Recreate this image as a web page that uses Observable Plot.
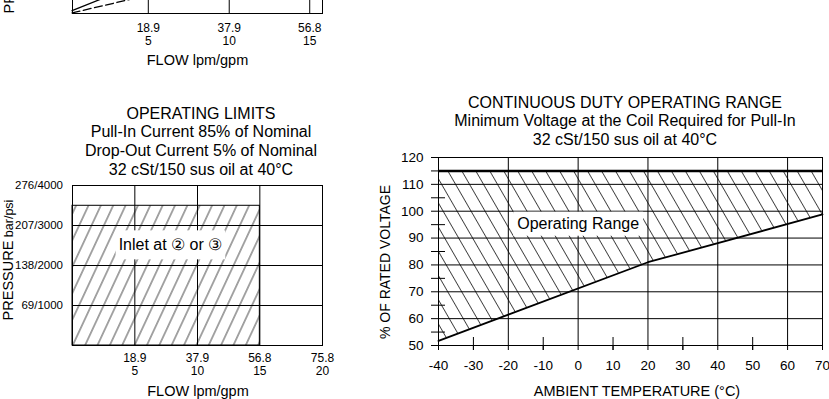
<!DOCTYPE html>
<html>
<head>
<meta charset="utf-8">
<script src="https://cdn.jsdelivr.net/npm/d3@7"></script>
<script src="https://cdn.jsdelivr.net/npm/@observablehq/plot@0.6"></script>
<style>
  html, body { margin: 0; padding: 0; background: #fff; }
  #root { position: relative; width: 829px; height: 399px; overflow: hidden; background: #fff;
          font-family: Arial, "Liberation Sans", Helvetica, sans-serif; color: #000; }
  #root svg { position: absolute; }
  .title { position: absolute; font-size: 16px; text-align: center; white-space: nowrap; transform: translateX(-50%); }
  .axlabel { position: absolute; font-size: 14.5px; white-space: nowrap; line-height: 1; }
</style>
</head>
<body>
<div id="root"></div>
<script>
// ---------- data ----------
const flowLpm = [18.9, 37.9, 56.8, 75.8];
const flowGpm = [5, 10, 15, 20];
const pressureBar = [69, 138, 207, 276];
const pressurePsi = [1000, 2000, 3000, 4000];

// operating limits region (flow lpm, pressure bar)
const limitRegion = [{flow0: 0, flow1: 56.8, p0: 0, p1: 241}];
const inletLabel = [{flow: 29.7, pressure: 173, text: "Inlet at \u2461 or \u2462"}];

// cut-off upper chart curves
const topSolidFlow = [1.0, 8.5];
const topSolidPressure = [4.8, 27];
const topDashedFlow = [1.0, 15];
const topDashedPressure = [1.0, 25];

// continuous duty operating range
const temps = [-40, 20, 70];
const minVoltage = [51.7, 81, 98.8];
const maxVoltage = 115;
const tempTicks = [-40, -30, -20, -10, 0, 10, 20, 30, 40, 50, 60, 70];
const tempGrid = [-20, 0, 20, 40, 60];
const tempMinor = [-30, -10, 10, 30, 50];
const voltTicks = [50, 60, 70, 80, 90, 100, 110, 120];
const voltGrid = [60, 70, 80, 90, 100, 110];
const voltMinor = [55, 65, 75, 85, 95, 105, 115];
const rangeLabel = [{temp: 0, volt: 95.2, text: "Operating Range"}];

const leftTitle = ["OPERATING LIMITS", "Pull-In Current 85% of Nominal", "Drop-Out Current 5% of Nominal", "32 cSt/150 sus oil at 40\u00B0C"];
const rightTitle = ["CONTINUOUS DUTY OPERATING RANGE", "Minimum Voltage at the Coil Required for Pull-In", "32 cSt/150 sus oil at 40\u00B0C"];

// ---------- helpers ----------
const FONT = 'Arial, "Liberation Sans", Helvetica, sans-serif';
const root = document.getElementById("root");
const baseStyle = {fontFamily: FONT, fontSize: "12px", color: "#000", background: "transparent", overflow: "visible"};

function place(el, left, top) {
  el.style.left = left + "px";
  el.style.top = top + "px";
  root.appendChild(el);
  return el;
}
function hatch(svg, id, angle, spacing, width) {
  const defs = d3.select(svg).insert("defs", ":first-child");
  const p = defs.append("pattern").attr("id", id)
    .attr("patternUnits", "userSpaceOnUse")
    .attr("width", spacing).attr("height", spacing)
    .attr("patternTransform", `rotate(${angle})`);
  p.append("line").attr("x1", spacing / 2).attr("x2", spacing / 2)
    .attr("y1", -1).attr("y2", spacing + 1)
    .attr("stroke", "#111").attr("stroke-width", width);
}
function boxLabel(svg, label, padX, padY) {
  d3.select(svg).selectAll("text").filter(function() { return this.textContent === label; })
    .each(function() {
      const b = this.getBBox();
      const r = document.createElementNS("http://www.w3.org/2000/svg", "rect");
      r.setAttribute("x", b.x - padX); r.setAttribute("y", b.y - padY);
      r.setAttribute("width", b.width + 2 * padX); r.setAttribute("height", b.height + 2 * padY);
      r.setAttribute("fill", "#fff");
      const t = this.getAttribute("transform"); if (t) r.setAttribute("transform", t);
      this.parentNode.insertBefore(r, this);
    });
}
function titleBlock(lines, cx, firstCenter, lineH) {
  const div = document.createElement("div");
  div.className = "title";
  div.style.lineHeight = lineH + "px";
  lines.forEach(l => { const d = document.createElement("div"); d.textContent = l; div.appendChild(d); });
  place(div, cx, firstCenter - lineH / 2);
}
function axisLabel(text, cx, cy) {
  const div = document.createElement("div");
  div.className = "axlabel";
  div.textContent = text;
  div.style.transform = "translate(-50%, -50%)";
  place(div, cx, cy);
}
function rotLabel(parts, cx, cy) {
  const div = document.createElement("div");
  div.className = "axlabel";
  div.style.transform = "translate(-50%, -50%) rotate(-90deg)";
  parts.forEach(([t, s]) => { const sp = document.createElement("span"); sp.textContent = t; sp.style.fontSize = s + "px"; div.appendChild(sp); });
  place(div, cx, cy);
}
const flowFmt = d => `${d}\n${flowGpm[flowLpm.indexOf(d)]}`;

// ---------- top (cut-off) chart ----------
const topSolid = topSolidFlow.map((f, i) => ({flow: f, p: topSolidPressure[i]}));
const topDashed = topDashedFlow.map((f, i) => ({flow: f, p: topDashedPressure[i]}));
const topPlot = Plot.plot({
  width: 340, height: 245,
  marginLeft: 72, marginRight: 18, marginTop: 23, marginBottom: 62,
  x: {domain: [1.1, 59.8], label: null},
  y: {domain: [0, 276], label: null, axis: null},
  style: baseStyle,
  marks: [
    Plot.ruleX(flowLpm.slice(0, 3), {stroke: "#000"}),
    Plot.frame({stroke: "#000"}),
    Plot.line(topSolid, {x: "flow", y: "p", stroke: "#000", strokeWidth: 1.3}),
    Plot.line(topDashed, {x: "flow", y: "p", stroke: "#000", strokeWidth: 1.3, strokeDasharray: "8,3.5"}),
    Plot.axisX({ticks: flowLpm.slice(0, 3), tickSize: 0, tickPadding: 10, tickFormat: flowFmt, fontSize: 12, lineHeight: 1.05, label: null})
  ]
});
place(topPlot, 0, -170);

// ---------- operating limits chart ----------
const leftPlot = Plot.plot({
  width: 340, height: 229,
  marginLeft: 72, marginRight: 18, marginTop: 15, marginBottom: 54,
  x: {domain: [0, 75.8], label: null},
  y: {domain: [0, 276], label: null},
  style: baseStyle,
  marks: [
    Plot.rect(limitRegion, {x1: "flow0", x2: "flow1", y1: "p0", y2: "p1", fill: "url(#hatchL)"}),
    Plot.ruleX(flowLpm.slice(0, 3), {stroke: "#000"}),
    Plot.ruleY(pressureBar.slice(0, 3), {stroke: "#000"}),
    Plot.rect(limitRegion, {x1: "flow0", x2: "flow1", y1: "p0", y2: "p1", fill: "none", stroke: "#000"}),
    Plot.frame({stroke: "#000"}),
    Plot.axisX({ticks: flowLpm, tickSize: 0, tickPadding: 8, tickFormat: flowFmt, fontSize: 12, lineHeight: 1.05, label: null}),
    Plot.axisY({ticks: pressureBar, tickSize: 0, tickPadding: 9.5, tickFormat: d => `${d}/${pressurePsi[pressureBar.indexOf(d)]}`, fontSize: 11.5, label: null}),
    Plot.text(inletLabel, {x: "flow", y: "pressure", text: "text", fontSize: 16, fill: "#000"})
  ]
});
place(leftPlot, 0, 170);
hatch(leftPlot, "hatchL", 25, 11.2, 0.75);
boxLabel(leftPlot, inletLabel[0].text, 3, 6);

// ---------- continuous duty chart ----------
const rangeData = temps.map((t, i) => ({temp: t, min: minVoltage[i], max: maxVoltage}));
const rightPlot = Plot.plot({
  width: 459, height: 254,
  marginLeft: 68, marginRight: 7, marginTop: 12, marginBottom: 54,
  x: {domain: [-40, 70], label: null},
  y: {domain: [50, 120], label: null},
  style: {...baseStyle, fontSize: "13.5px"},
  marks: [
    Plot.areaY(rangeData, {x: "temp", y1: "min", y2: "max", fill: "url(#hatchR)"}),
    Plot.ruleX(tempGrid, {stroke: "#000"}),
    Plot.ruleY(voltGrid, {stroke: "#000"}),
    Plot.frame({stroke: "#000"}),
    Plot.axisX({ticks: tempTicks, tickSize: 5, tickPadding: 10, tickFormat: d => String(d), fontSize: 13.5, label: null}),
    Plot.axisX({ticks: tempMinor, tickSize: 13, dy: -8, tickFormat: () => "", label: null}),
    Plot.axisY({ticks: voltTicks, tickSize: 7, tickPadding: 8, tickFormat: d => String(d), fontSize: 13.5, label: null}),
    Plot.axisY({ticks: voltMinor, tickSize: 14, dx: 7, tickFormat: () => "", label: null}),
    Plot.ruleY([maxVoltage], {stroke: "#000", strokeWidth: 2.6}),
    Plot.line(rangeData, {x: "temp", y: "min", stroke: "#000", strokeWidth: 1.8}),
    Plot.text(rangeLabel, {x: "temp", y: "volt", text: "text", fontSize: 16, fill: "#000"})
  ]
});
place(rightPlot, 370, 145);
hatch(rightPlot, "hatchR", -30, 12.1, 0.75);
boxLabel(rightPlot, rangeLabel[0].text, 4, 3.5);

// ---------- titles & axis labels ----------
titleBlock(leftTitle, 201, 114, 18.8);
titleBlock(rightTitle, 625, 103, 18.5);
axisLabel("FLOW lpm/gpm", 198, 391);
axisLabel("FLOW lpm/gpm", 197.5, 60);
axisLabel("AMBIENT TEMPERATURE (\u00B0C)", 637, 391);
rotLabel([["PRESSURE", 14.5], [" bar/psi", 12.5]], 7.5, 259.5);
rotLabel([["PRESSURE", 14.5], [" bar/psi", 12.5]], 9, -47.5);
rotLabel([["% OF RATED VOLTAGE", 14]], 385, 262);
</script>
</body>
</html>
